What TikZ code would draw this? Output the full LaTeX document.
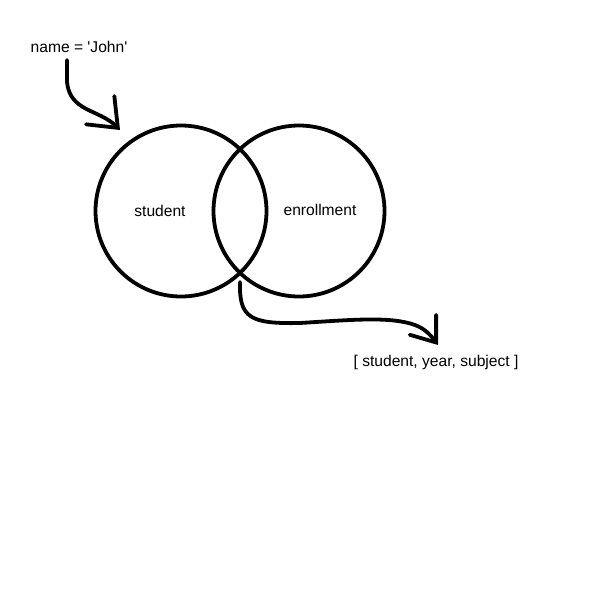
\documentclass[tikz,border=0pt]{standalone}
\usepackage{fontspec}
\setmainfont{Liberation Sans}
\usetikzlibrary{positioning,arrows.meta}

\begin{document}
\begin{tikzpicture}[x=1pt,y=-1pt]
       \tikzset{set/.style = {circle, draw, line width=3.8pt, minimum size=171pt, inner sep=0pt}, }
       \tikzset{lbl/.style = {font=\fontsize{15.6}{18}\selectfont, inner sep=1pt}, }
       \tikzset{sketch/.style = {line width=3.8pt, line cap=round, line join=round}, }
       \useasboundingbox (0,0) rectangle (600,600);

       \node[set] (student) at (181,211) {};
       \node[set] (enrol) at (299,211) {};
       \node[lbl] (stext) at (160,211) {student};
       \node[lbl] (etext) at (320,210) {enrollment};
       \node[lbl] (name) at (79,47) {name = \textquotesingle John\textquotesingle};
       \node[lbl] (result) at (436,362) {[ student, year, subject ]};

       \coordinate (nstart) at (67,60);
       \coordinate (ntip) at (120,130);
       \coordinate (rstart) at (240,282);
       \coordinate (rtip) at (438,345);

       \draw[sketch, -{Straight Barb[length=25pt,width=40pt,line cap=round]}]
         (nstart) -- (67,82) .. controls (70,112) and (99,109) .. (ntip);
       \draw[sketch, -{Straight Barb[length=22pt,width=33pt,line cap=round]}]
         (rstart) .. controls (239,318) and (250,324) .. (300,323)
         .. controls (350,320) and (390,316) .. (415,325)
         .. controls (426,329) and (432,337) .. (rtip);
\end{tikzpicture}
\end{document}
